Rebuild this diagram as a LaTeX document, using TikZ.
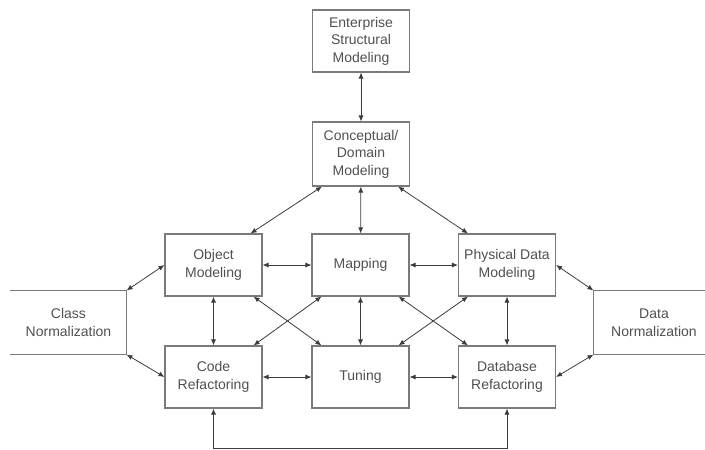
\documentclass[tikz,border=0pt]{standalone}
\usepackage{fontspec}
\setmainfont{Liberation Sans}
\usetikzlibrary{arrows.meta}
\definecolor{boxline}{HTML}{7A7A7A}
\definecolor{arrline}{HTML}{3C3C3C}
\definecolor{txt}{HTML}{505050}
\begin{document}
\begin{tikzpicture}[x=1pt,y=-1pt,
  box/.style={draw=boxline,line width=1.1pt,minimum width=97pt,minimum height=62pt,
    inner sep=0pt,align=center,text=txt,font=\fontsize{14}{17.5}\selectfont},
  openbox/.style={box,draw=none},
  link/.style={draw=arrline,line width=0.8pt,
    {Latex[length=6pt,width=5pt]}-{Latex[length=6pt,width=5pt]}}]
\useasboundingbox (0,0) rectangle (705,450);

% upper chain
\node[box] (ent) at (361,41) {Enterprise\\Structural\\Modeling};
\node[box,minimum height=64pt] (con) at (361,154) {Conceptual/\\Domain\\Modeling};

% central grid
\node[box] (obj) at (213.5,265) {Object\\Modeling};
\node[box] (map) at (360.5,265) {Mapping};
\node[box] (phy) at (507,265) {Physical Data\\Modeling};
\node[box] (cod) at (213.5,377) {Code\\Refactoring};
\node[box] (tun) at (360.5,377) {Tuning};
\node[box] (dbr) at (507,377) {Database\\Refactoring};

% side boxes, open toward the page edge
\node[openbox,minimum width=115pt,minimum height=63pt] (cls) at (68.5,322.5) {Class\\Normalization};
\node[openbox,minimum width=120pt,minimum height=63pt] (dat) at (654,322.5) {Data\\Normalization};
\draw[boxline,line width=1.1pt] (cls.north west) -- (cls.north east) -- (cls.south east) -- (cls.south west);
\draw[boxline,line width=1.1pt] (dat.north east) -- (dat.north west) -- (dat.south west) -- (dat.south east);

% connectors
\draw[link] (ent) -- (con);
\draw[link] ([xshift=10pt]con.south west) -- ([xshift=-12pt]obj.north east);
\draw[link] (con) -- (map);
\draw[link] ([xshift=-12pt]con.south east) -- ([xshift=10pt]phy.north west);

\draw[link] (obj) -- (map);
\draw[link] (map) -- (phy);
\draw[link] (cod) -- (tun);
\draw[link] (tun) -- (dbr);
\draw[link] (obj) -- (cod);
\draw[link] (map) -- (tun);
\draw[link] (phy) -- (dbr);

\draw[link] ([xshift=-9pt]obj.south east) -- ([xshift=10pt]tun.north west);
\draw[link] ([xshift=10pt]map.south west) -- ([xshift=-9pt]cod.north east);
\draw[link] ([xshift=-11pt]map.south east) -- ([xshift=10pt]dbr.north west);
\draw[link] ([xshift=10pt]phy.south west) -- ([xshift=-11pt]tun.north east);

\draw[link] (cls.north east) -- (obj.west);
\draw[link] (cls.south east) -- (cod.west);
\draw[link] (dat.north west) -- (phy.east);
\draw[link] (dat.south west) -- (dbr.east);

\coordinate (low) at (0,448.5);
\draw[link] (cod.south) -- (cod.south |- low) -- (dbr.south |- low) -- (dbr.south);
\end{tikzpicture}
\end{document}
